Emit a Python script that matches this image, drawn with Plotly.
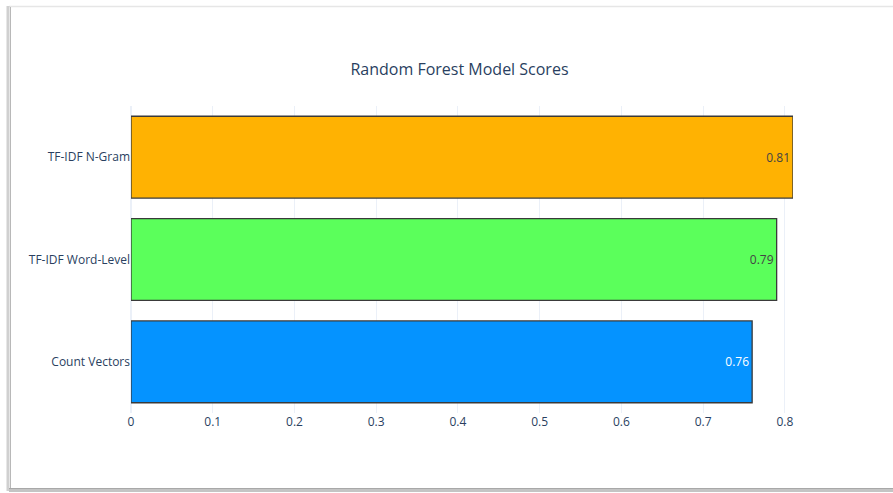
import plotly.graph_objects as go

# Model scores for each feature representation
categories = ["Count Vectors", "TF-IDF Word-Level", "TF-IDF N-Gram"]
scores = [0.76, 0.79, 0.81]
bar_colors = ["#0593FF", "#5BFF5B", "#FFB202"]
tick_values = [0, 0.1, 0.2, 0.3, 0.4, 0.5, 0.6, 0.7, 0.8]

W, H = 893, 493
L, R, T, B = 131, 100, 106, 80
pw, ph = W - L - R, H - T - B


def px_x(p):
    return (p - L) / pw


def px_y(p):
    return (H - B - p) / ph


fig = go.Figure(
    go.Bar(
        x=scores,
        y=categories,
        orientation="h",
        marker=dict(color=bar_colors, line=dict(color="#3a3a3a", width=1.3)),
        text=[f"{v:.2f}" for v in scores],
        textposition="inside",
        insidetextanchor="end",
        textfont=dict(size=12),
    )
)

# Framed card border with a soft shadow on the left and bottom edges
frame = [
    dict(x0=px_x(9), x1=px_x(W + 5), y0=px_y(6.5), y1=px_y(6.5), color="#e6e6e6", width=1.5),
    dict(x0=px_x(8), x1=px_x(8), y0=px_y(6), y1=px_y(491), color="#d0d0d0", width=3),
    dict(x0=px_x(10.5), x1=px_x(10.5), y0=px_y(7), y1=px_y(489), color="#b8b8b8", width=1),
    dict(x0=px_x(9), x1=px_x(W + 5), y0=px_y(490.5), y1=px_y(490.5), color="#c4c4c4", width=3),
    dict(x0=px_x(9), x1=px_x(W + 5), y0=px_y(488.5), y1=px_y(488.5), color="#a8a8a8", width=1),
]
shapes = [
    dict(type="line", xref="paper", yref="paper", x0=f["x0"], x1=f["x1"], y0=f["y0"], y1=f["y1"],
         line=dict(color=f["color"], width=f["width"]), layer="above")
    for f in frame
]

fig.update_layout(
    template="plotly_white",
    width=W,
    height=H,
    margin=dict(l=L, r=R, t=T, b=B, autoexpand=False),
    title=dict(
        text="Random Forest Model Scores",
        xref="paper", x=px_x(459.5), xanchor="center",
        yref="container", y=1 - 69 / H, yanchor="middle",
        font=dict(size=16),
    ),
    xaxis=dict(range=[0, 0.81], tickvals=tick_values, ticktext=[f"{v:g}" for v in tick_values],
               tickfont=dict(size=12)),
    yaxis=dict(tickfont=dict(size=12)),
    bargap=0.2,
    showlegend=False,
    shapes=shapes,
)

fig.write_html("out.html")
